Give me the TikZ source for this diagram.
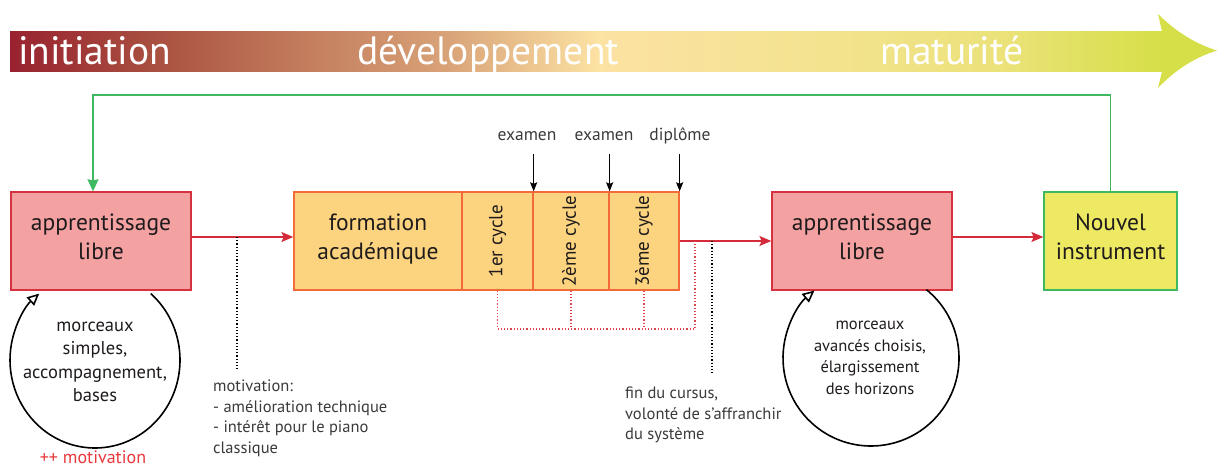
\documentclass[tikz,border=0pt]{standalone}
\usepackage{fontspec}
\setmainfont{PT Sans}
\usetikzlibrary{arrows.meta}

% palette
\definecolor{boxred}{HTML}{F4A1A1}
\definecolor{edgered}{HTML}{D6313F}
\definecolor{arrred}{HTML}{D42A3A}
\definecolor{boxorange}{HTML}{FCD47F}
\definecolor{edgeorange}{HTML}{F36B38}
\definecolor{boxyellow}{HTML}{EDE963}
\definecolor{edgegreen}{HTML}{3FB862}
\definecolor{textdark}{HTML}{1F1B1C}
\definecolor{textgray}{HTML}{3A3A3A}
\definecolor{dotred}{HTML}{E2404C}
\definecolor{motred}{HTML}{E8383D}

% stops of the progression band
\definecolor{c0}{HTML}{98222F}
\definecolor{c1}{HTML}{A84E3F}
\definecolor{c2}{HTML}{C27B5C}
\definecolor{c3}{HTML}{D9A378}
\definecolor{c4}{HTML}{FCE2A3}
\definecolor{c5}{HTML}{F4E391}
\definecolor{c6}{HTML}{EBE27A}
\definecolor{c7}{HTML}{D6DF47}
\pgfdeclarehorizontalshading{bandshade}{100bp}{color(0bp)=(c0); color(25bp)=(c0); color(31bp)=(c1); color(37.5bp)=(c2); color(44bp)=(c3); color(50.5bp)=(c4); color(59.5bp)=(c5); color(68bp)=(c6); color(75bp)=(c7); color(100bp)=(c7)}

\tikzset{
  bandtext/.style={text=white, font=\fontsize{39.5}{42}\selectfont, inner sep=0, anchor=base west},
  stagebox/.style={line width=1.3pt, minimum height=98pt, align=center, inner sep=0,
                   text depth=9pt, text=textdark, font=\fontsize{23.5}{29}\selectfont},
  freebox/.style={stagebox, draw=edgered, fill=boxred, minimum width=180pt},
  acabox/.style={stagebox, draw=edgeorange, fill=boxorange},
  cyclebox/.style={acabox, text depth=0pt, font=\fontsize{19}{22}\selectfont},
  newbox/.style={stagebox, draw=edgegreen, fill=boxyellow, minimum width=133pt},
  flow/.style={draw=arrred, line width=1.4pt, -{Stealth[length=12pt, width=10pt, inset=2.5pt]}},
  backflow/.style={draw=edgegreen, line width=1.4pt, -{Stealth[length=12pt, width=11pt, inset=1pt]}},
  milestone/.style={draw=black, line width=1.3pt, -{Stealth[length=9pt, width=7pt, inset=1.5pt]}},
  note/.style={text=textgray, font=\fontsize{16.5}{20.5}\selectfont, align=left, inner sep=0},
  marklabel/.style={text=textgray, font=\fontsize{17.5}{20}\selectfont, inner sep=0},
  blackdots/.style={draw=black, line width=1.2pt, dotted},
  reddots/.style={draw=dotred, line width=1.2pt, dotted},
  loopline/.style={draw=black, line width=1.6pt, -{Triangle[open, length=12pt, width=11pt, fill=white]}},
  looptext/.style={text=textdark, align=center, inner sep=0},
}

\begin{document}
\begin{tikzpicture}[x=1pt, y=-1pt]
\useasboundingbox (0,0) rectangle (1218,468);

% progression band with its arrow head
\fill[shading=bandshade] (10,31.5) rectangle (1163,71.5);
\fill[c7] (1162,31.5) -- (1158,14) .. controls (1176,32) and (1196,44) .. (1217,50.5)
          .. controls (1196,57) and (1176,69) .. (1158,88) -- (1162,71.5) -- cycle;
\node[bandtext] (tinit) at (18,65) {initiation};
\node[bandtext] (tdev) at (357,65) {développement};
\node[bandtext] (tmat) at (880,65) {maturité};

% stages
\node[freebox] (a1) at (101,241) {apprentissage\\libre};
\node[acabox, minimum width=168pt] (form) at (378,241) {formation\\académique};
\node[cyclebox, minimum width=71pt] (c1) at (497.5,241) {\rotatebox{90}{1er cycle}};
\node[cyclebox, minimum width=76pt] (c2) at (571,241) {\rotatebox{90}{2ème cycle}};
\node[cyclebox, minimum width=70pt] (c3) at (644,241) {\rotatebox{90}{3ème cycle}};
\node[freebox] (a2) at (862,241) {apprentissage\\libre};
\node[newbox] (ni) at (1110.5,241) {Nouvel\\instrument};

% main flow
\draw[flow] ([yshift=4pt]a1.east) -- ([yshift=4pt]form.west);
\draw[flow] (c3.east) -- (a2.west);
\draw[flow] ([yshift=4pt]a2.east) -- ([yshift=4pt]ni.west);

% return path to a new beginning
\coordinate (gr) at (1110.5,95);
\coordinate (gl) at (93,95);
\draw[backflow] (ni.north) -- (gr) -- (gl) -- (gl |- a1.north);

% exams and diploma
\node[marklabel] (e1) at (527,136) {examen};
\node[marklabel] (e2) at (604,136) {examen};
\node[marklabel] (e3) at (680,136) {diplôme};
\draw[milestone] ([yshift=37pt]c1.north east) -- (c1.north east);
\draw[milestone] ([yshift=37pt]c2.north east) -- (c2.north east);
\draw[milestone] ([yshift=37pt]c3.north east) -- (c3.north east);

% exits from each cycle
\coordinate (rj) at (695,241);
\coordinate (rb) at (695,329);
\draw[reddots] (c1.south) |- (rb) -- (rj);
\draw[reddots] (c2.south) -- (c2.south |- rb);
\draw[reddots] (c3.south) -- (c3.south |- rb);

% motivations
\coordinate (m1) at (237,237);
\coordinate (m2) at (712,241);
\node[note, anchor=north west] (mot) at (213,380) {motivation:\\- amélioration technique\\- intérêt pour le piano\\classique};
\node[note, anchor=north west] (fin) at (625,387) {fin du cursus,\\volonté de s’affranchir\\du système};
\draw[blackdots] (m1) -- (m1 |- 0,370);
\draw[blackdots] (m2) -- (m2 |- 0,373);

% practice loops
\coordinate (o1) at (95,360);
\draw[loopline] ([shift={(-49:85 and 88)}]o1) arc[start angle=-49, end angle=229, x radius=85, y radius=88];
\node[looptext, font=\fontsize{18.5}{23.5}\selectfont] (t1) at (95,362) {morceaux\\simples,\\accompagnement,\\bases};
\node[text=motred, font=\fontsize{18}{20}\selectfont, inner sep=0, anchor=base] (plus) at (93,463) {++ motivation};

\coordinate (o2) at (871,358);
\draw[loopline] ([shift={(-51:88)}]o2) arc[start angle=-51, end angle=230, radius=88];
\node[looptext, font=\fontsize{16.5}{21.5}\selectfont] (t2) at (870,358) {morceaux\\avancés choisis,\\élargissement\\des horizons};
\end{tikzpicture}
\end{document}
